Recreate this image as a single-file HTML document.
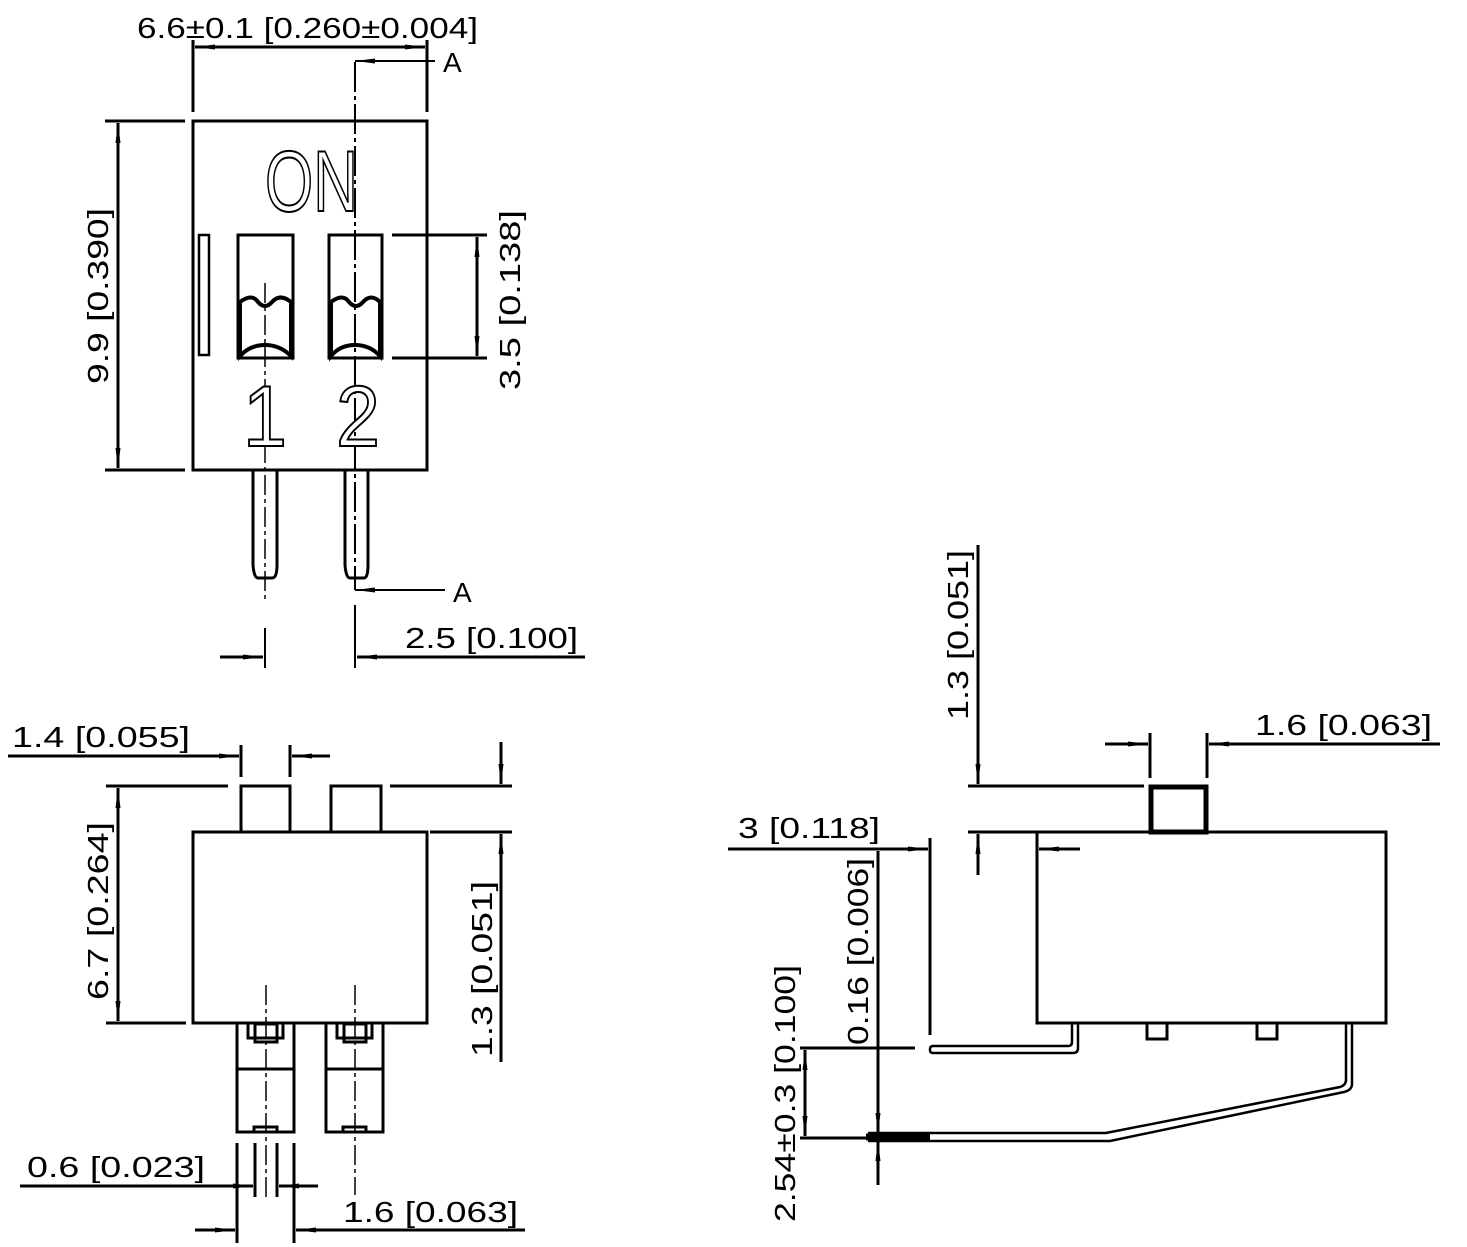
<!DOCTYPE html>
<html><head><meta charset="utf-8"><style>
html,body{margin:0;padding:0;background:#fff;}
svg{display:block}
text{font-family:"Liberation Sans",sans-serif;font-size:29px;fill:#000;}
</style></head><body>
<svg width="1467" height="1247" viewBox="0 0 1467 1247" xmlns="http://www.w3.org/2000/svg">
<defs>
<marker id="a" viewBox="0 0 20 8" refX="20" refY="4" markerWidth="20" markerHeight="8" markerUnits="userSpaceOnUse" orient="auto-start-reverse"><path d="M0,1.5 L20,4 L0,6.5 Z" fill="#000"/></marker>
</defs>
<g fill="none" stroke="#000" stroke-width="3">
<!-- TOP VIEW -->
<rect x="193" y="121" width="234" height="349"/>
<rect x="199" y="235" width="10" height="120" stroke-width="2.5"/>
<rect x="238" y="235" width="55" height="123"/>
<rect x="329" y="235" width="53" height="123"/>
<path d="M240,302 Q252,293 258,302 Q265,310 272,302 Q280,293 291,302 L291,356 Q280,345 265,345 Q250,345 240,356 Z" stroke-width="4"/>
<path d="M331,302 Q343,293 349,302 Q356,310 363,302 Q371,293 380,302 L380,356 Q370,345 355,345 Q340,345 331,356 Z" stroke-width="4"/>
<!-- pins -->
<path d="M253,470 L253,565 Q254,578 258,578 L272,578 Q277,578 277,565 L277,470"/>
<path d="M345,470 L345,565 Q346,578 350,578 L364,578 Q368,578 368,565 L368,470"/>
<!-- centerlines -->
<line x1="265" y1="283" x2="265" y2="600" stroke-width="1.5" stroke-dasharray="20,4,4,4"/>
<line x1="265" y1="628" x2="265" y2="668" stroke-width="2"/>
<line x1="355" y1="62" x2="355" y2="590" stroke-width="2" stroke-dasharray="30,4,4,4"/>
<line x1="355" y1="605" x2="355" y2="668" stroke-width="2"/>
<line x1="355" y1="61" x2="435" y2="61" stroke-width="2" marker-start="url(#a)"/>
<line x1="355" y1="590" x2="445" y2="590" stroke-width="2" marker-start="url(#a)"/>
<!-- top dim -->
<line x1="193" y1="40" x2="193" y2="112"/>
<line x1="427" y1="40" x2="427" y2="112"/>
<line x1="195" y1="47" x2="425" y2="47" marker-start="url(#a)" marker-end="url(#a)"/>
<!-- left dim -->
<line x1="105" y1="121" x2="185" y2="121"/>
<line x1="105" y1="470" x2="185" y2="470"/>
<line x1="118" y1="123" x2="118" y2="468" marker-start="url(#a)" marker-end="url(#a)"/>
<!-- 3.5 dim -->
<line x1="392" y1="235" x2="487" y2="235"/>
<line x1="392" y1="358" x2="487" y2="358"/>
<line x1="477" y1="237" x2="477" y2="356" marker-start="url(#a)" marker-end="url(#a)"/>
<!-- 2.5 dim -->
<line x1="220" y1="657" x2="263" y2="657" marker-end="url(#a)"/>
<line x1="585" y1="657" x2="357" y2="657" marker-end="url(#a)"/>

<!-- FRONT VIEW -->
<rect x="193" y="832" width="234" height="191"/>
<rect x="241" y="786" width="49" height="46"/>
<rect x="331" y="786" width="50" height="46"/>
<rect x="237" y="1023" width="57" height="109"/>
<line x1="237" y1="1069" x2="294" y2="1069"/>
<path d="M248,1023 L248,1038 L283,1038 L283,1023"/>
<rect x="255" y="1024" width="22" height="18"/>
<rect x="254" y="1127" width="23" height="5"/>
<rect x="326" y="1023" width="57" height="109"/>
<line x1="326" y1="1069" x2="383" y2="1069"/>
<path d="M337,1023 L337,1038 L372,1038 L372,1023"/>
<rect x="344" y="1024" width="22" height="18"/>
<rect x="343" y="1127" width="23" height="5"/>
<line x1="266" y1="985" x2="266" y2="1200" stroke-width="1.5" stroke-dasharray="20,4,4,4"/>
<line x1="355" y1="985" x2="355" y2="1195" stroke-width="1.5" stroke-dasharray="20,4,4,4"/>
<!-- 1.4 dim -->
<line x1="241" y1="745" x2="241" y2="777"/>
<line x1="290" y1="745" x2="290" y2="777"/>
<line x1="8" y1="756" x2="239" y2="756" marker-end="url(#a)"/>
<line x1="330" y1="756" x2="292" y2="756" marker-end="url(#a)"/>
<!-- 6.7 dim -->
<line x1="106" y1="786" x2="228" y2="786"/>
<line x1="106" y1="1023" x2="186" y2="1023"/>
<line x1="118" y1="788" x2="118" y2="1021" marker-start="url(#a)" marker-end="url(#a)"/>
<!-- 1.3 dim right -->
<line x1="390" y1="786" x2="512" y2="786"/>
<line x1="430" y1="832" x2="512" y2="832"/>
<line x1="501" y1="742" x2="501" y2="784" marker-end="url(#a)"/>
<line x1="501" y1="1062" x2="501" y2="834" marker-end="url(#a)"/>
<!-- 0.6 dim -->
<line x1="237" y1="1143" x2="237" y2="1243"/>
<line x1="294" y1="1143" x2="294" y2="1243"/>
<line x1="255" y1="1143" x2="255" y2="1197"/>
<line x1="277" y1="1143" x2="277" y2="1197"/>
<line x1="20" y1="1186" x2="253" y2="1186" marker-end="url(#a)"/>
<line x1="318" y1="1186" x2="279" y2="1186" marker-end="url(#a)"/>
<!-- 1.6 dim -->
<line x1="195" y1="1230" x2="235" y2="1230" marker-end="url(#a)"/>
<line x1="525" y1="1230" x2="296" y2="1230" marker-end="url(#a)"/>

<!-- SIDE VIEW -->
<rect x="1037" y="832" width="349" height="191"/>
<rect x="1151" y="787" width="55" height="45" stroke-width="5"/>
<rect x="1147" y="1023" width="20" height="16"/>
<rect x="1257" y="1023" width="20" height="16"/>
<line x1="968" y1="786" x2="1144" y2="786"/>
<line x1="968" y1="832" x2="1037" y2="832"/>
<line x1="978" y1="545" x2="978" y2="784" marker-end="url(#a)"/>
<line x1="978" y1="875" x2="978" y2="834" marker-end="url(#a)"/>
<!-- 1.6 side -->
<line x1="1150" y1="733" x2="1150" y2="778"/>
<line x1="1207" y1="733" x2="1207" y2="778"/>
<line x1="1105" y1="744" x2="1148" y2="744" marker-end="url(#a)"/>
<line x1="1440" y1="744" x2="1209" y2="744" marker-end="url(#a)"/>
<!-- 3 dim -->
<line x1="930" y1="838" x2="930" y2="1035"/>
<line x1="728" y1="849" x2="928" y2="849" marker-end="url(#a)"/>
<line x1="1080" y1="849" x2="1039" y2="849" marker-end="url(#a)"/>
<!-- left lead -->
<path d="M1072,1023 L1072,1042 Q1072,1046 1068,1046 L933,1046 Q930,1046 930,1049 L930,1050 Q930,1053 933,1053 L1073,1053 Q1078,1053 1078,1048 L1078,1023" stroke-width="2.5"/>
<!-- right lead -->
<path d="M1346,1023 L1346,1080 Q1346,1085 1340,1087 L1106,1133 L868,1133" stroke-width="2.5"/>
<path d="M1352,1023 L1352,1084 Q1352,1090 1344,1092 L1110,1141 L868,1141" stroke-width="2.5"/>
<line x1="866" y1="1137" x2="930" y2="1137" stroke-width="7"/>
<!-- 0.16 dim -->
<line x1="800" y1="1048" x2="915" y2="1048"/>
<line x1="878" y1="851" x2="878" y2="1133" marker-end="url(#a)"/>
<line x1="878" y1="1185" x2="878" y2="1141" marker-end="url(#a)"/>
<!-- 2.54 dim -->
<line x1="800" y1="1138" x2="866" y2="1138"/>
<line x1="805" y1="1050" x2="805" y2="1136" marker-start="url(#a)" marker-end="url(#a)"/>
</g>
<text x="265" y="211" textLength="93" lengthAdjust="spacingAndGlyphs" style="font-size:86px;fill:#fff;stroke:#000;stroke-width:2">ON</text>
<text x="243" y="446" textLength="44" lengthAdjust="spacingAndGlyphs" style="font-size:86px;fill:#fff;stroke:#000;stroke-width:2">1</text>
<text x="336" y="446" textLength="44" lengthAdjust="spacingAndGlyphs" style="font-size:86px;fill:#fff;stroke:#000;stroke-width:2">2</text>
<text x="137" y="38" textLength="341" lengthAdjust="spacingAndGlyphs">6.6±0.1  [0.260±0.004]</text>
<text x="443" y="72" style="font-size:28px">A</text>
<text x="453" y="602" style="font-size:28px">A</text>
<text x="405" y="648" textLength="173" lengthAdjust="spacingAndGlyphs">2.5  [0.100]</text>
<text transform="translate(108,384) rotate(-90)" textLength="176" lengthAdjust="spacingAndGlyphs">9.9  [0.390]</text>
<text transform="translate(520,390) rotate(-90)" textLength="180" lengthAdjust="spacingAndGlyphs">3.5  [0.138]</text>
<text x="12" y="747" textLength="178" lengthAdjust="spacingAndGlyphs">1.4  [0.055]</text>
<text transform="translate(108,1000) rotate(-90)" textLength="178" lengthAdjust="spacingAndGlyphs">6.7  [0.264]</text>
<text transform="translate(492,1057) rotate(-90)" textLength="176" lengthAdjust="spacingAndGlyphs">1.3  [0.051]</text>
<text x="27" y="1177" textLength="178" lengthAdjust="spacingAndGlyphs">0.6  [0.023]</text>
<text x="343" y="1222" textLength="175" lengthAdjust="spacingAndGlyphs">1.6  [0.063]</text>
<text transform="translate(968,720) rotate(-90)" textLength="170" lengthAdjust="spacingAndGlyphs">1.3  [0.051]</text>
<text x="1255" y="735" textLength="177" lengthAdjust="spacingAndGlyphs">1.6  [0.063]</text>
<text x="738" y="838" textLength="142" lengthAdjust="spacingAndGlyphs">3  [0.118]</text>
<text transform="translate(868,1045) rotate(-90)" textLength="187" lengthAdjust="spacingAndGlyphs">0.16  [0.006]</text>
<text transform="translate(795,1222) rotate(-90)" textLength="257" lengthAdjust="spacingAndGlyphs">2.54±0.3  [0.100]</text>
</svg>
</body></html>
